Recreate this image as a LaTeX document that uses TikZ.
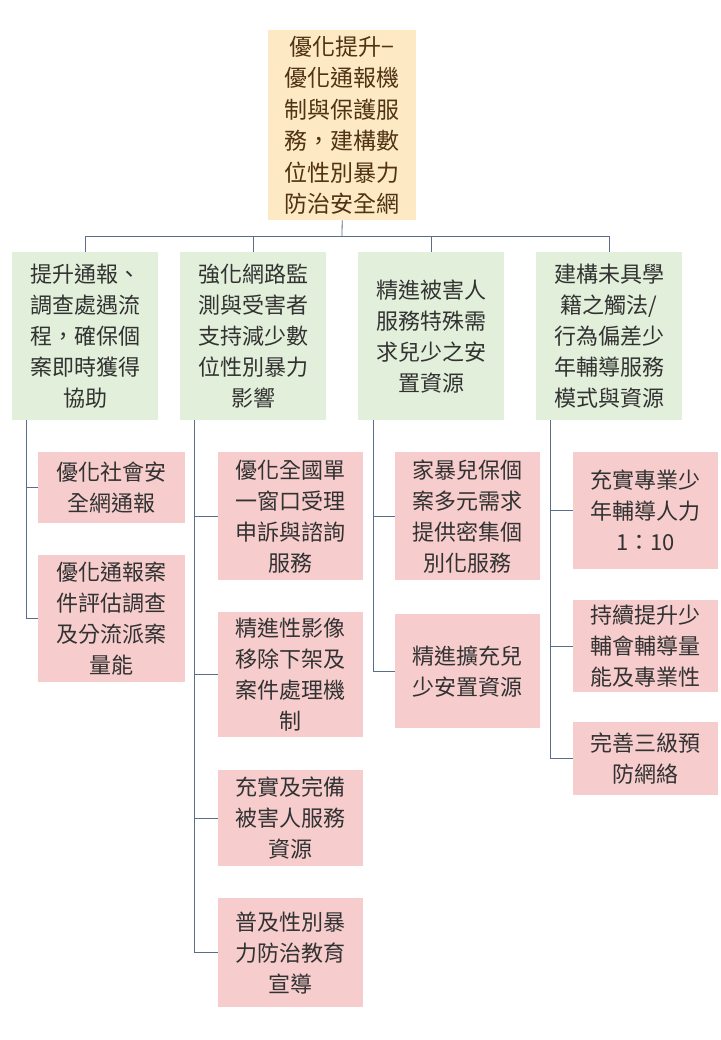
\documentclass[tikz,border=0pt]{standalone}
\usepackage{fontspec}
\setmainfont{Noto Sans CJK TC}
\definecolor{topfill}{RGB}{253,233,196}
\definecolor{toptext}{RGB}{80,50,20}
\definecolor{lvfill}{RGB}{226,239,218}
\definecolor{chfill}{RGB}{246,204,204}
\definecolor{lncol}{RGB}{90,110,140}
\definecolor{txt}{RGB}{50,50,50}
\begin{document}
\begin{tikzpicture}[x=1pt,y=-1pt,
  bx/.style={anchor=north west,inner sep=0pt,align=center,font=\fontsize{22}{31}\selectfont,text=txt},
  lv/.style={bx,fill=lvfill},
  ch/.style={bx,fill=chfill},
  ln/.style={draw=lncol,line width=0.8pt}]
\useasboundingbox[fill=white] (0,0) rectangle (720,1040);
\node[bx,fill=topfill,text=toptext,minimum width=148pt,minimum height=190pt,font=\fontsize{23}{31.5}\selectfont] (T) at (268,30) {優化提升−\\優化通報機\\制與保護服\\務，建構數\\位性別暴力\\防治安全網};
\node[lv,minimum width=146pt,minimum height=168pt] (A) at (12,252) {提升通報、\\調查處遇流\\程，確保個\\案即時獲得\\協助};
\node[lv,minimum width=146pt,minimum height=168pt] (B) at (180,252) {強化網路監\\測與受害者\\支持減少數\\位性別暴力\\影響};
\node[lv,minimum width=146pt,minimum height=168pt] (C) at (358,252) {精進被害人\\服務特殊需\\求兒少之安\\置資源};
\node[lv,minimum width=146pt,minimum height=168pt] (D) at (536,252) {建構未具學\\籍之觸法/\\行為偏差少\\年輔導服務\\模式與資源};
\coordinate (t0) at (342,236);
\draw[ln] (T.south) -- (t0);
\foreach \n in {A,B,C,D} \draw[ln] (t0) -| (\n.north);
% A
\node[ch,minimum width=147pt,minimum height=71pt] (A1) at (38,452) {優化社會安\\全網通報};
\node[ch,minimum width=147pt,minimum height=127pt] (A2) at (38,555) {優化通報案\\件評估調查\\及分流派案\\量能};
\coordinate (a0) at (26,420);
\foreach \n in {A1,A2} \draw[ln] (a0) |- (\n.west);
% B
\node[ch,minimum width=145pt,minimum height=128pt] (B1) at (218,452) {優化全國單\\一窗口受理\\申訴與諮詢\\服務};
\node[ch,minimum width=145pt,minimum height=125pt] (B2) at (218,612) {精進性影像\\移除下架及\\案件處理機\\制};
\node[ch,minimum width=145pt,minimum height=96pt] (B3) at (218,770) {充實及完備\\被害人服務\\資源};
\node[ch,minimum width=145pt,minimum height=109pt] (B4) at (218,898) {普及性別暴\\力防治教育\\宣導};
\coordinate (b0) at (194,420);
\foreach \n in {B1,B2,B3,B4} \draw[ln] (b0) |- (\n.west);
% C
\node[ch,minimum width=145pt,minimum height=128pt] (C1) at (395,452) {家暴兒保個\\案多元需求\\提供密集個\\別化服務};
\node[ch,minimum width=145pt,minimum height=114pt] (C2) at (395,614) {精進擴充兒\\少安置資源};
\coordinate (c0) at (373,420);
\foreach \n in {C1,C2} \draw[ln] (c0) |- (\n.west);
% D
\node[ch,minimum width=145pt,minimum height=117pt] (D1) at (573,452) {充實專業少\\年輔導人力\\1：10};
\node[ch,minimum width=145pt,minimum height=92pt] (D2) at (573,600) {持續提升少\\輔會輔導量\\能及專業性};
\node[ch,minimum width=145pt,minimum height=73pt] (D3) at (573,722) {完善三級預\\防網絡};
\coordinate (d0) at (550,420);
\foreach \n in {D1,D2,D3} \draw[ln] (d0) |- (\n.west);
\end{tikzpicture}
\end{document}
